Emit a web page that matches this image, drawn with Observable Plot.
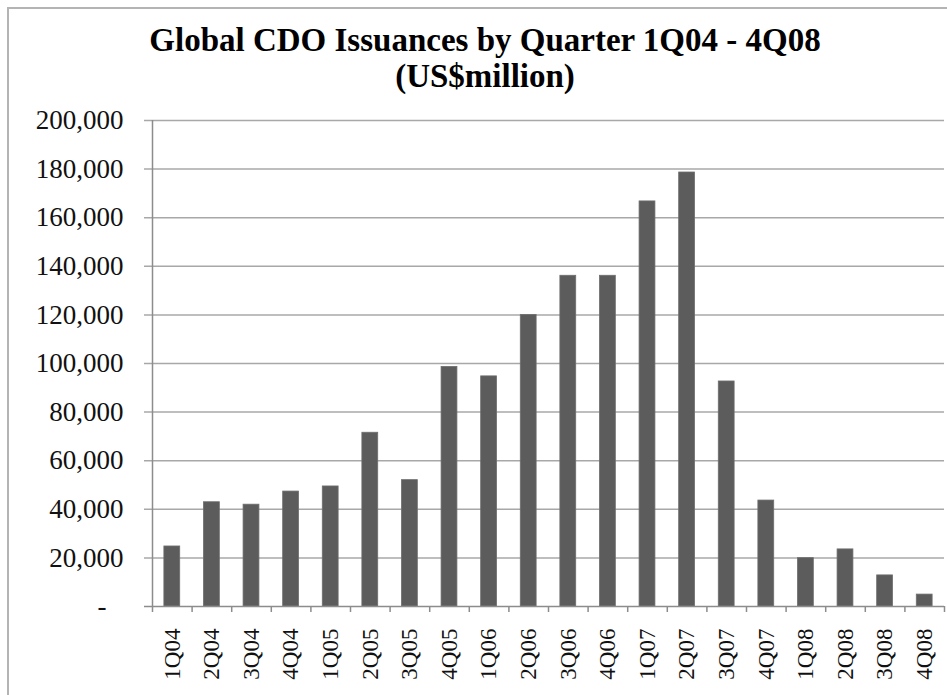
<!DOCTYPE html>
<html>
<head>
<meta charset="utf-8">
<script src="https://cdn.jsdelivr.net/npm/d3@7"></script>
<script src="https://cdn.jsdelivr.net/npm/@observablehq/plot@0.6"></script>
<style>
  html, body { margin: 0; padding: 0; background: #fff; }
  #wrap { position: relative; width: 947px; height: 695px; overflow: hidden; background: #fff; }
  #border { position: absolute; left: 7px; top: 7px; width: 1000px; height: 1000px; border: 2px solid #b4b4b4; box-sizing: border-box; pointer-events: none; }
  #title { position: relative; box-sizing: border-box; width: 947px; height: 100px; padding-top: 22px; padding-left: 23px;
           text-align: center; font-family: "Liberation Serif", "Times New Roman", serif; font-weight: bold;
           font-size: 33px; line-height: 36px; color: #000; }
  #chart { position: relative; }
  #chart svg { overflow: visible; }
</style>
</head>
<body>
<div id="wrap">
  <div id="border"></div>
  <div id="title">Global CDO Issuances by Quarter 1Q04 - 4Q08<br>(US$million)</div>
  <div id="chart"></div>
</div>
<script>
const quarters = ["1Q04","2Q04","3Q04","4Q04","1Q05","2Q05","3Q05","4Q05","1Q06","2Q06",
                  "3Q06","4Q06","1Q07","2Q07","3Q07","4Q07","1Q08","2Q08","3Q08","4Q08"];
const issuance = [24700, 42900, 41900, 47300, 49400, 71500, 52000, 98600, 94700, 120000,
                  136100, 136100, 166700, 178600, 92600, 43600, 19900, 23500, 12800, 4900];
const yTicks = [0, 20000, 40000, 60000, 80000, 100000, 120000, 140000, 160000, 180000, 200000];

const data = quarters.map((q, i) => ({q, v: issuance[i]}));

const W = 947, H = 595;
const mL = 152, mR = 3, mT = 20, mB = 89;
const step = (W - mL - mR) / quarters.length;
const frameH = H - mT - mB;
const serif = "Liberation Serif, Times New Roman, serif";

const chart = Plot.plot({
  width: W,
  height: H,
  marginLeft: mL,
  marginRight: mR,
  marginTop: mT,
  marginBottom: mB,
  style: {fontFamily: serif, color: "#111", background: "transparent"},
  x: {type: "band", domain: quarters, paddingInner: 0.6, paddingOuter: 0.3, round: false, axis: null, label: null},
  y: {domain: [0, 200000], axis: null, label: null},
  marks: [
    Plot.ruleY(yTicks.filter(d => d > 0), {stroke: "#a8a8a8", strokeWidth: 1.5, insetLeft: -8}),
    Plot.barY(data, {x: "q", y: "v", fill: "#5c5c5c", stroke: "#6e6e6e", strokeWidth: 0.8}),
    Plot.ruleY([0], {stroke: "#8c8c8c", strokeWidth: 1.5, insetLeft: -8}),
    Plot.ruleX([quarters[0]], {x: d => d, dx: -step / 2, insetBottom: -6, stroke: "#8c8c8c", strokeWidth: 1.5}),
    Plot.ruleX(quarters.slice(1), {x: d => d, dx: -step / 2, insetTop: frameH, insetBottom: -6, stroke: "#8c8c8c", strokeWidth: 1.5}),
    Plot.ruleX([quarters[quarters.length - 1]], {x: d => d, dx: step / 2, insetTop: frameH, insetBottom: -6, stroke: "#8c8c8c", strokeWidth: 1.5}),
    Plot.axisY({ticks: yTicks.filter(d => d > 0), tickFormat: d3.format(","), tickSize: 0, tickPadding: 29,
                fontSize: 27, fill: "#111", label: null}),
    Plot.axisY({ticks: [0], tickFormat: () => "-", tickSize: 0, tickPadding: 46, fontSize: 27, fill: "#111", label: null}),
    Plot.axisX({tickSize: 0, tickPadding: 22, tickRotate: -90, fontSize: 23, fill: "#111", label: null})
  ]
});
document.getElementById("chart").appendChild(chart);
</script>
</body>
</html>
